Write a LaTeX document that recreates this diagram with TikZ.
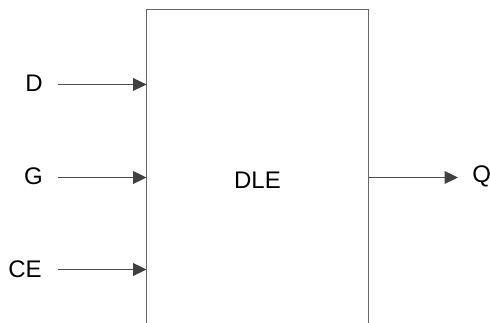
\documentclass[tikz,border=0pt]{standalone}
\usepackage{fontspec}
\setmainfont{Liberation Sans}
\usetikzlibrary{arrows.meta}
\begin{document}
\begin{tikzpicture}[x=0.75pt,y=-0.75pt,
  pin/.style={draw=black!70, line width=0.8pt,
    -{Triangle[length=10pt,width=9.5pt,fill=black!75,color=black!75]}},
  sig/.style={font=\fontsize{18}{20}\selectfont, inner sep=0pt},
  body/.style={draw=black!60, line width=1pt}]
\useasboundingbox (0,0) rectangle (490,323);
% block outline, open at the bottom
\draw[body] (146.5,330) -- (146.5,9.5) -- (368.5,9.5) -- (368.5,330);
\node[sig] (dle) at (257.5,180.5) {DLE};
% pin positions on the block edges
\coordinate (inD) at (146.5,84.5);
\coordinate (inG) at (146.5,177.5);
\coordinate (inCE) at (146.5,269.5);
\coordinate (outQ) at (368.5,177.5);
\node[sig, anchor=east] (D) at (43,83) {D};
\node[sig, anchor=east] (G) at (43,176.5) {G};
\node[sig, anchor=east] (CE) at (42,269) {CE};
\node[sig, anchor=west] (Q) at (472,176.5) {Q};
\draw[pin] (58,84.5) -- (inD);
\draw[pin] (58,177.5) -- (inG);
\draw[pin] (58,269.5) -- (inCE);
\draw[pin] (outQ) -- (458,177.5);
\end{tikzpicture}
\end{document}
